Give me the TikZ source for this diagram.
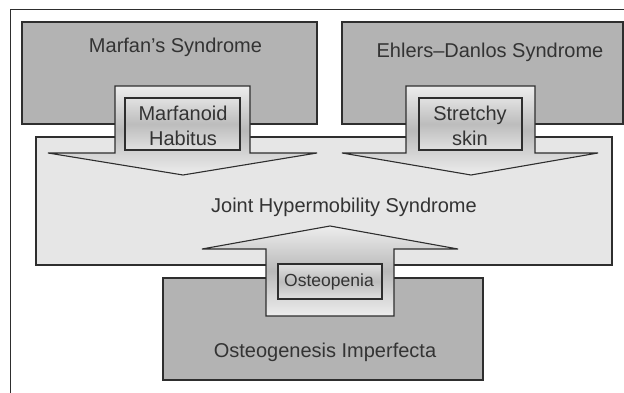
\documentclass[tikz,border=0pt]{standalone}
\usepackage{fontspec}
\setmainfont{Liberation Sans}
\definecolor{edge}{HTML}{2E2E2E}
\definecolor{txt}{HTML}{333333}
\definecolor{darkfill}{HTML}{B3B3B3}
\definecolor{lightfill}{HTML}{E6E6E6}
\definecolor{shlight}{HTML}{EDEDED}
\definecolor{shmid}{HTML}{B9B9B9}
\begin{document}
\begin{tikzpicture}[x=1pt,y=-1pt,
  frameline/.style={draw=edge, line width=1pt},
  darkbox/.style={draw=edge, line width=1.2pt, fill=darkfill},
  lightbox/.style={draw=edge, line width=1.2pt, fill=lightfill},
  blockarrow/.style={draw=edge, line width=1.1pt, line join=miter, top color=shlight, bottom color=shlight, middle color=shmid},
  innerbox/.style={draw=edge, line width=1.1pt, top color=shlight!95!black, bottom color=shlight!95!black, middle color=shmid!95!white},
  lbl/.style={text=txt, font=\fontsize{20}{24}\selectfont, align=center, inner sep=0pt},
  smalllbl/.style={text=txt, font=\fontsize{17.5}{21}\selectfont, align=center, inner sep=0pt}
]
\useasboundingbox (0,0) rectangle (624,393);
% frame
\draw[frameline] (10,393) -- (10,10) -- (624,10);
% big boxes
\draw[darkbox] (22,22) rectangle (317,124);
\draw[darkbox] (342,22) rectangle (623,124);
\draw[darkbox] (163,278) rectangle (483,380);
\draw[lightbox] (36,137) rectangle (612,265);
% texts of big boxes
\node[lbl] (marfan) at (175.5,47) {Marfan’s Syndrome};
\node[lbl] (ehlers) at (490,52) {Ehlers–Danlos Syndrome};
\node[lbl] (joint) at (344,207) {Joint Hypermobility Syndrome};
\node[lbl] (osteo) at (325,352) {Osteogenesis Imperfecta};
% block arrows
\draw[blockarrow] (115,86) -- (250,86) -- (250,153) -- (317,153) -- (183,175) -- (48,153) -- (115,153) -- cycle;
\draw[blockarrow] (406,86) -- (535,86) -- (535,153) -- (598,153) -- (471,175) -- (342,153) -- (406,153) -- cycle;
\draw[blockarrow] (266,316) -- (394,316) -- (394,249) -- (458,249) -- (330,226) -- (202,249) -- (266,249) -- cycle;
% inner boxes
\draw[innerbox] (125,98) rectangle (240,150);
\draw[innerbox] (419,98) rectangle (522,150);
\draw[innerbox] (278,264) rectangle (382,299);
\node[lbl] (marfanoid) at (183,126) {Marfanoid\\[1pt]Habitus};
\node[lbl] (stretchy) at (470,126) {Stretchy\\[1pt]skin};
\node[smalllbl] (osteopenia) at (329,282) {Osteopenia};
\end{tikzpicture}
\end{document}
